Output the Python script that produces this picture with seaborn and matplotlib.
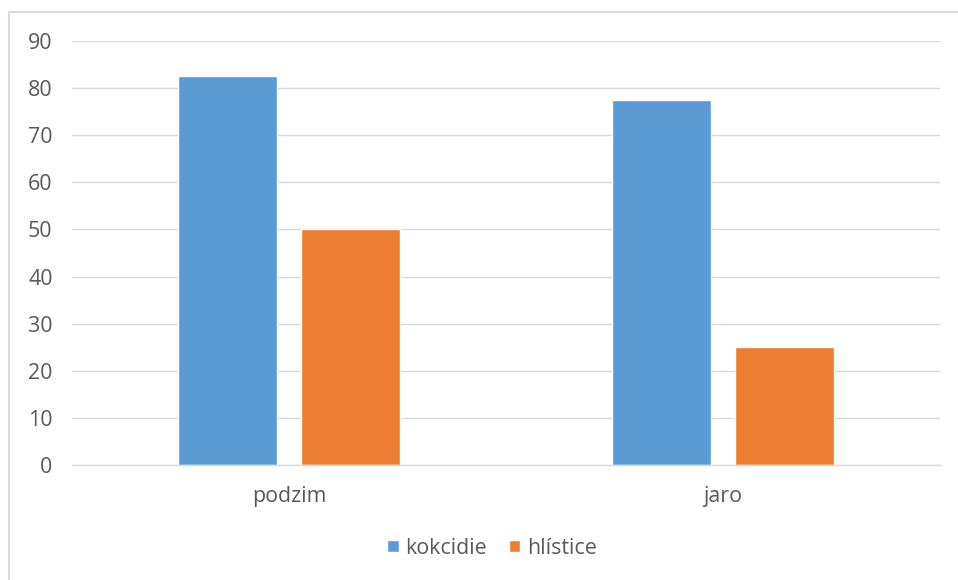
import matplotlib
matplotlib.use("Agg")
import matplotlib.pyplot as plt
from matplotlib.lines import Line2D
import seaborn as sns
import pandas as pd

seasons = ["podzim", "jaro"]
kokcidie = [82.6, 77.5]
hlistice = [50.0, 25.0]
series_names = ["kokcidie", "hlístice"]
y_ticks = [0, 10, 20, 30, 40, 50, 60, 70, 80, 90]

df = pd.DataFrame({
    "season": seasons * 2,
    "value": kokcidie + hlistice,
    "series": [series_names[0]] * len(seasons) + [series_names[1]] * len(seasons),
})

sns.set_theme(style="white")
plt.rcParams["font.family"] = ["Open Sans", "DejaVu Sans"]
text_color = "#595959"
grid_color = "#D9D9D9"
font_size = 15.4

W, H = 958, 580
fig = plt.figure(figsize=(W / 100, H / 100), dpi=100)
ax = fig.add_axes([72 / W, 1 - 465 / H, (940 - 72) / W, (465 - 41) / H])

sns.barplot(
    data=df, x="season", y="value", hue="series",
    palette=["#5B9BD5", "#ED7D31"], width=0.567, gap=0.2,
    saturation=1, ax=ax, legend=True,
)

ax.set_ylim(0, 90)
ax.set_yticks(y_ticks)
ax.set_xlim(-0.5, 1.5)
ax.set_xlabel("")
ax.set_ylabel("")
ax.yaxis.grid(True, color=grid_color, linewidth=1)
ax.set_axisbelow(True)
for side in ["top", "right", "left"]:
    ax.spines[side].set_visible(False)
ax.spines["bottom"].set_color(grid_color)
ax.spines["bottom"].set_linewidth(1)
ax.tick_params(axis="both", length=0, colors=text_color, labelsize=font_size)
ax.tick_params(axis="y", pad=14)
ax.tick_params(axis="x", pad=15)

handles, labels = ax.get_legend_handles_labels()
ax.legend(
    handles, labels, loc="center", bbox_to_anchor=(492 / W, 1 - 548 / H),
    bbox_transform=fig.transFigure, ncol=2, frameon=False,
    fontsize=font_size, labelcolor=text_color, handlelength=0.52, handleheight=0.52,
    handletextpad=0.33, columnspacing=1.0,
)

# Chart-area frame: top and left edges
fig.add_artist(Line2D([8.5 / W, 1.0], [1 - 12 / H, 1 - 12 / H],
                      transform=fig.transFigure, color=grid_color, linewidth=1.5))
fig.add_artist(Line2D([8.5 / W, 8.5 / W], [0.0, 1 - 12 / H],
                      transform=fig.transFigure, color=grid_color, linewidth=1.5))

fig.savefig("out.png", dpi=100, facecolor="white")
